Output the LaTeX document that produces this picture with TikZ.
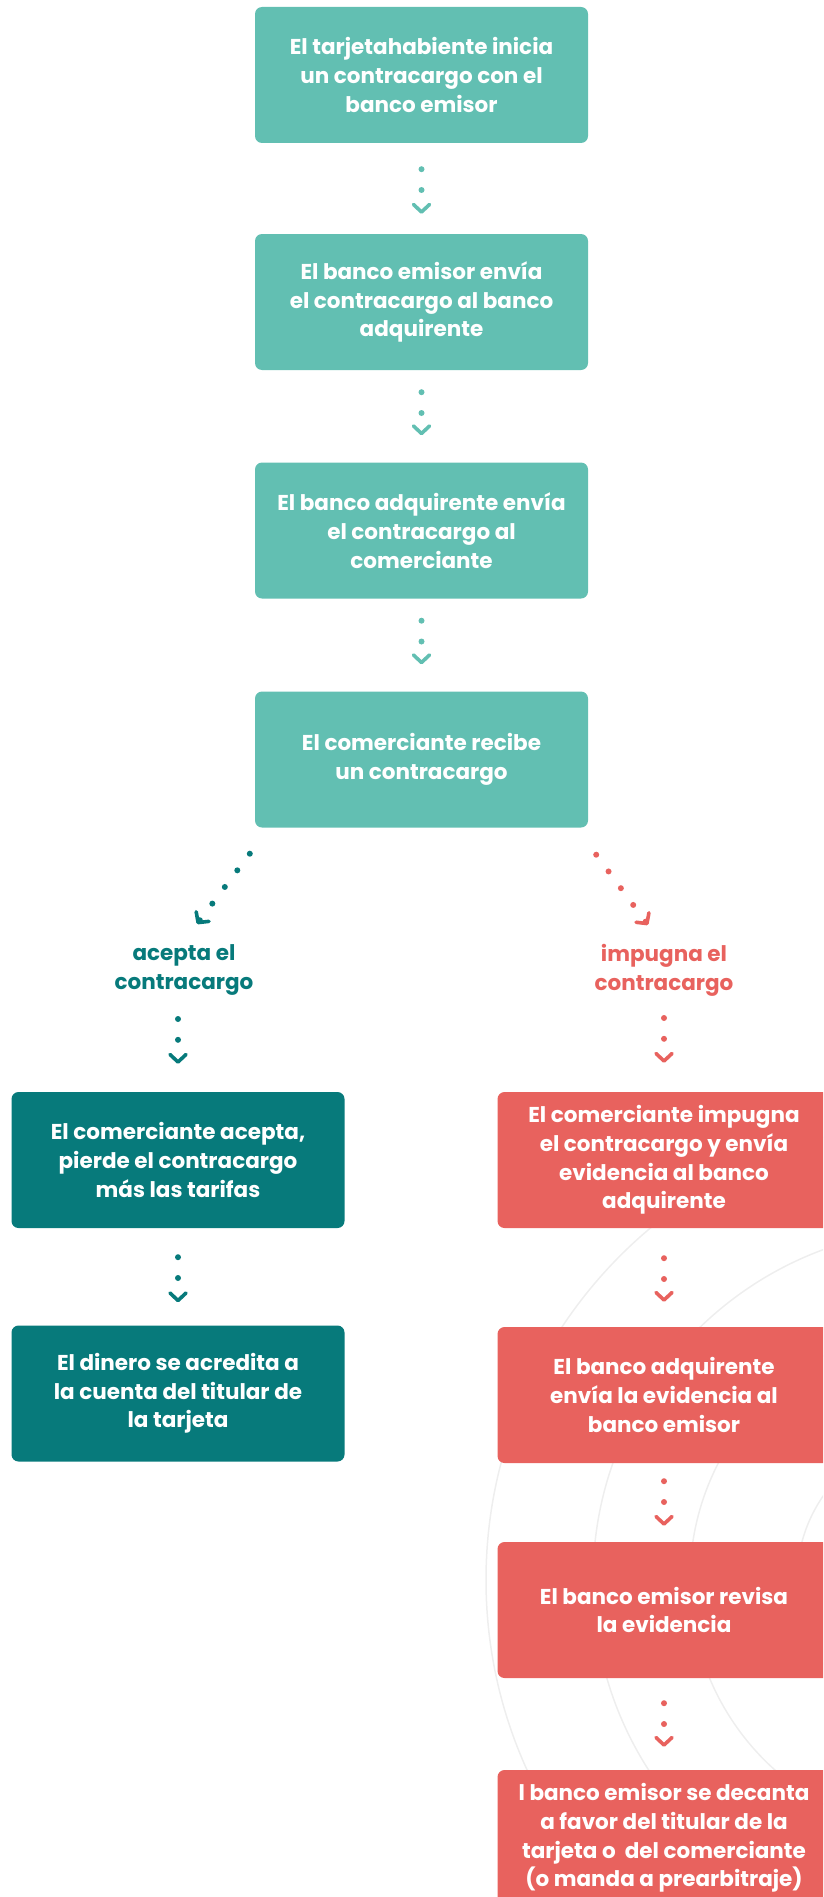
\documentclass[tikz,border=0pt]{standalone}
\usepackage{fontspec}
\setmainfont{Poppins}
\usetikzlibrary{arrows.meta}

\definecolor{tealclaro}{HTML}{62BFB2}
\definecolor{tealoscuro}{HTML}{077A7B}
\definecolor{coral}{HTML}{E8625E}
\definecolor{fondo}{HTML}{EEEEEE}

\begin{document}
\begin{tikzpicture}[x=1pt, y=-1pt,
    paso/.style={rectangle, rounded corners=7pt, fill=#1, text=white,
      minimum width=333pt, minimum height=136pt, align=center,
      font=\bfseries\fontsize{21.5}{28.7}\selectfont},
    etiqueta/.style={text=#1, align=center,
      font=\bfseries\fontsize{21.5}{29}\selectfont},
    flujo/.style={draw=#1, line width=6pt, line cap=round,
      dash pattern=on 0pt off 20.8pt,
      -{Straight Barb[length=7.5pt, width=16pt, line width=3.6pt, round]}}]
  \useasboundingbox (0,0) rectangle (823,1897);
  \clip (0,0) rectangle (823,1897);

  % ── Fondo: círculos concéntricos ──────────────────────────────────
  \foreach \r in {148,255,352,459}
    \draw[fondo, line width=1.5pt] (945,1580) circle[radius=\r];

  % ── Columna central ───────────────────────────────────────────────
  \node[paso=tealclaro] (inicia)   at (421.5,75)
    {El tarjetahabiente inicia\\un contracargo con el\\banco emisor};
  \node[paso=tealclaro] (envia)    at (421.5,302)
    {El banco emisor envía\\el contracargo al banco\\adquirente};
  \node[paso=tealclaro] (traslada) at (421.5,530.5)
    {El banco adquirente envía\\el contracargo al\\comerciante};
  \node[paso=tealclaro] (recibe)   at (421.5,759.5)
    {El comerciante recibe\\un contracargo};

  \draw[flujo=tealclaro, shorten <=26pt, shorten >=20pt] (inicia.south) -- (envia.north);
  \draw[flujo=tealclaro, shorten <=22pt, shorten >=27pt] (envia.south) -- (traslada.north);
  \draw[flujo=tealclaro, shorten <=22pt, shorten >=27pt] (traslada.south) -- (recibe.north);

  % ── Rama izquierda: acepta ────────────────────────────────────────
  \node[etiqueta=tealoscuro] (lblacepta) at (184,970) {acepta el\\contracargo};
  \node[paso=tealoscuro] (pierde)   at (178,1160)
    {El comerciante acepta,\\pierde el contracargo\\más las tarifas};
  \node[paso=tealoscuro] (acredita) at (178,1393.5)
    {El dinero se acredita a\\la cuenta del titular de\\la tarjeta};

  \draw[flujo=tealoscuro] ([shift={(-5,26)}]recibe.south west) -- ([shift={(13,-46)}]lblacepta.center);
  \draw[flujo=tealoscuro, shorten >=28pt] ([shift={(-6,49)}]lblacepta.center) -- (pierde.north);
  \draw[flujo=tealoscuro, shorten <=29pt, shorten >=23pt] (pierde.south) -- (acredita.north);

  % ── Rama derecha: impugna ─────────────────────────────────────────
  \node[etiqueta=coral] (lblimpugna) at (664,970) {impugna el\\contracargo};
  \node[paso=coral] (disputa) at (664,1160)
    {El comerciante impugna\\el contracargo y envía\\evidencia al banco\\adquirente};
  \node[paso=coral] (reenvia) at (664,1395)
    {El banco adquirente\\envía la evidencia al\\banco emisor};
  \node[paso=coral] (revisa)  at (664,1610)
    {El banco emisor revisa\\la evidencia};
  \node[paso=coral] (decide)  at (664,1838)
    {l banco emisor se decanta\\a favor del titular de la\\tarjeta o~ del comerciante\\(o manda a prearbitraje)};

  \draw[flujo=coral] ([shift={(8,27)}]recibe.south east) -- ([shift={(-16,-45)}]lblimpugna.center);
  \draw[flujo=coral, shorten >=29pt] ([shift={(0,48)}]lblimpugna.center) -- (disputa.north);
  \draw[flujo=coral, shorten <=30pt, shorten >=25pt] (disputa.south) -- (reenvia.north);
  \draw[flujo=coral, shorten <=18pt, shorten >=16pt] (reenvia.south) -- (revisa.north);
  \draw[flujo=coral, shorten <=25pt, shorten >=23pt] (revisa.south) -- (decide.north);
\end{tikzpicture}
\end{document}
